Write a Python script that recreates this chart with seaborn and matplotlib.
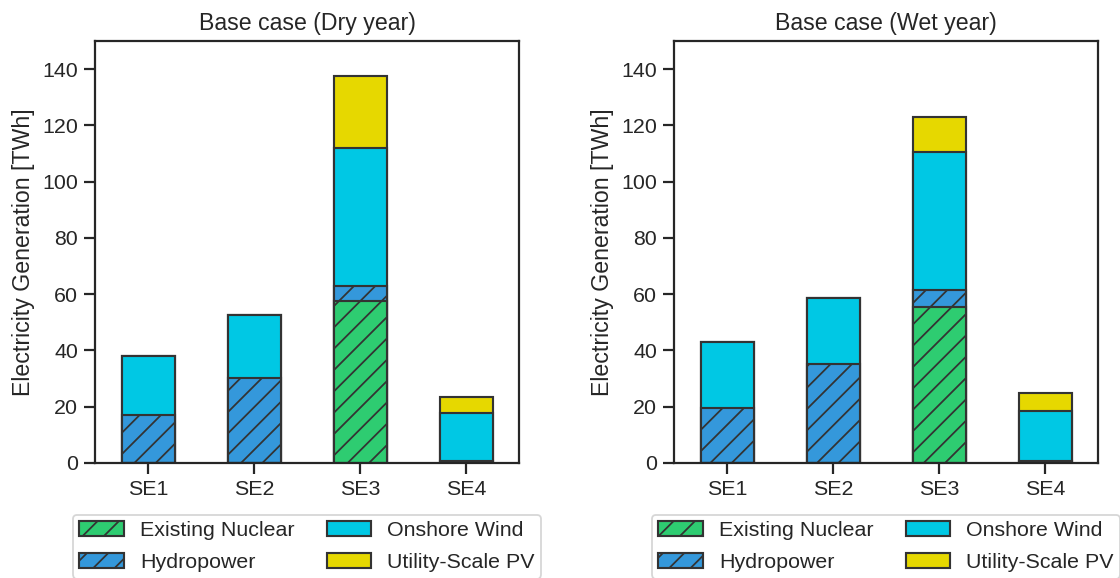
import matplotlib
matplotlib.use("Agg")
import matplotlib.pyplot as plt
from matplotlib.patches import Patch
import numpy as np
import pandas as pd
import seaborn as sns

# ---- data ----
regions = ["SE1", "SE2", "SE3", "SE4"]
technologies = ["Existing Nuclear", "Hydropower", "Onshore Wind", "Utility-Scale PV"]

dry_nuclear = [0.0, 0.0, 57.6, 0.0]
dry_hydro = [17.1, 30.2, 5.3, 0.6]
dry_wind = [21.0, 22.4, 49.0, 17.2]
dry_pv = [0.0, 0.0, 25.6, 5.7]

wet_nuclear = [0.0, 0.0, 55.4, 0.0]
wet_hydro = [19.5, 35.2, 6.1, 0.6]
wet_wind = [23.5, 23.4, 49.0, 17.9]
wet_pv = [0.0, 0.0, 12.5, 6.4]

titles = ["Base case (Dry year)", "Base case (Wet year)"]
yticks = [0, 20, 40, 60, 80, 100, 120, 140]

colors = ["#2ecc71", "#3498db", "#00c8e4", "#e6d800"]
hatches = ["//", "//", "", ""]
edge = "#333333"

# ---- style ----
sns.set_theme(style="ticks", context="notebook")
plt.rcParams["font.family"] = ["Liberation Sans", "DejaVu Sans"]
plt.rcParams["hatch.color"] = edge
plt.rcParams["hatch.linewidth"] = 1.0

DPI = 128
fig = plt.figure(figsize=(1120 / DPI, 578 / DPI), dpi=DPI)
ax_l = fig.add_axes([95 / 1120, 1 - 463 / 578, 424 / 1120, 422 / 578])
ax_r = fig.add_axes([674 / 1120, 1 - 463 / 578, 424 / 1120, 422 / 578])

datasets = [
    [dry_nuclear, dry_hydro, dry_wind, dry_pv],
    [wet_nuclear, wet_hydro, wet_wind, wet_pv],
]

for ax, layers, title in zip([ax_l, ax_r], datasets, titles):
    df = pd.DataFrame({t: v for t, v in zip(technologies, layers)}, index=regions)
    cum = df.cumsum(axis=1)
    # draw from the top layer down so lower layers paint over
    for i in reversed(range(len(technologies))):
        tech = technologies[i]
        d = pd.DataFrame({"Region": regions, "Value": cum[tech].values})
        sns.barplot(
            data=d, x="Region", y="Value", order=regions, ax=ax,
            color=colors[i], saturation=1, width=0.5, errorbar=None,
            edgecolor=edge, linewidth=1.2, hatch=hatches[i],
        )
    ax.set_ylim(0, 150)
    ax.set_xlim(-0.5, 3.5)
    ax.set_yticks(yticks)
    ax.tick_params(labelsize=12)
    ax.set_xlabel("")
    ax.set_ylabel("Electricity Generation [TWh]", fontsize=13)
    ax.set_title(title, fontsize=13)

    handles = [
        Patch(facecolor=c, edgecolor=edge, hatch=h, linewidth=1.2, label=t)
        for c, h, t in zip(colors, hatches, technologies)
    ]
    ax.legend(
        handles=handles, loc="upper center", bbox_to_anchor=(0.5, -0.123),
        borderaxespad=0, ncol=2, fontsize=12, handlelength=2.1,
        handletextpad=0.75, columnspacing=1.5, borderpad=0.3,
        labelspacing=0.6,
    )

fig.savefig("out.png", dpi=DPI)
